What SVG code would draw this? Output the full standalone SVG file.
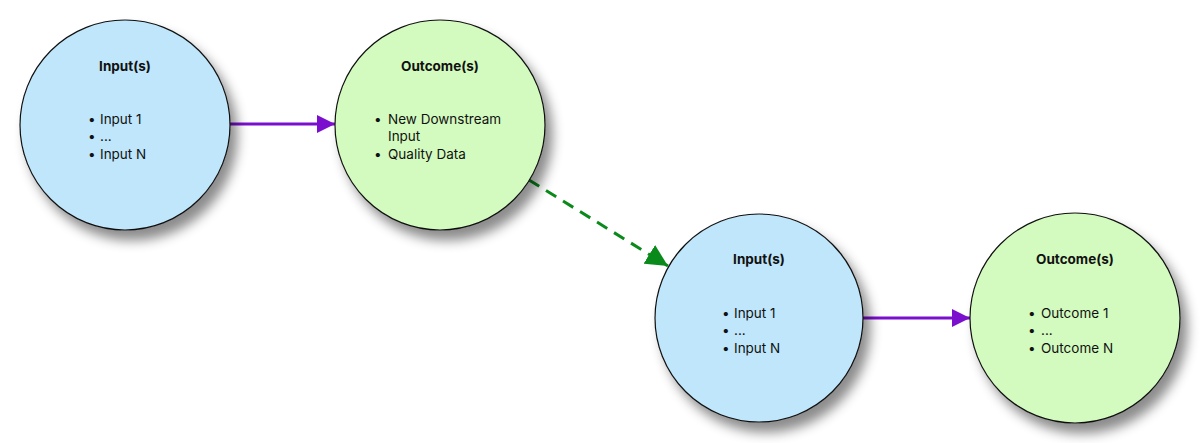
<svg xmlns="http://www.w3.org/2000/svg" width="1200" height="443" viewBox="0 0 1200 443">
<style>
.t{font-family:Inter,"Liberation Sans",sans-serif;font-size:13.5px;fill:#111}
.h{font-weight:bold;text-anchor:middle}
.b{fill:#bfe6fb;stroke:#111;stroke-width:1.2}
.g{fill:#d4fbbf;stroke:#111;stroke-width:1.2}
</style>
<defs>
<filter id="sh" x="-30%" y="-30%" width="160%" height="160%"><feDropShadow dx="7" dy="10" stdDeviation="6" flood-color="#000" flood-opacity="0.45"/></filter>
<marker id="ap" markerWidth="6" markerHeight="6" refX="6" refY="3" orient="auto" markerUnits="strokeWidth"><path d="M0,0L6,3L0,6Z" fill="#7a0fce"/></marker>
<marker id="ag2" viewBox="0 0 10 10" refX="10" refY="5" markerWidth="22" markerHeight="22" markerUnits="userSpaceOnUse" orient="auto"><path d="M0,0L10,5L0,10Z" fill="#0a8a1a"/></marker>
</defs>
<g id="connectors">
<line x1="229" y1="124" x2="335" y2="124" stroke="#7a0fce" stroke-width="3" marker-end="url(#ap)"/>
<line x1="529" y1="180" x2="668" y2="266" stroke="#0a8a1a" stroke-width="3" stroke-dasharray="12,8" marker-end="url(#ag2)"/>
<line x1="863" y1="318" x2="970" y2="318" stroke="#7a0fce" stroke-width="3" marker-end="url(#ap)"/>
</g>
<g id="n1"><circle cx="125" cy="125" r="105" class="b" filter="url(#sh)"/>
<text class="t h" x="125" y="71">Input(s)</text>
<text class="t" x="88" y="124">•</text><text class="t" x="100" y="124">Input 1</text>
<text class="t" x="88" y="141">•</text><text class="t" x="100" y="141">...</text>
<text class="t" x="88" y="159">•</text><text class="t" x="100" y="159">Input N</text></g>
<g id="n2"><circle cx="440" cy="125" r="105" class="g" filter="url(#sh)"/>
<text class="t h" x="440" y="71">Outcome(s)</text>
<text class="t" x="374" y="124">•</text><text class="t" x="388" y="124">New Downstream</text>
<text class="t" x="388" y="141">Input</text>
<text class="t" x="374" y="159">•</text><text class="t" x="388" y="159">Quality Data</text></g>
<g id="n3"><circle cx="759" cy="318" r="104" class="b" filter="url(#sh)"/>
<text class="t h" x="759" y="264">Input(s)</text>
<text class="t" x="722" y="318">•</text><text class="t" x="734" y="318">Input 1</text>
<text class="t" x="722" y="335">•</text><text class="t" x="734" y="335">...</text>
<text class="t" x="722" y="353">•</text><text class="t" x="734" y="353">Input N</text></g>
<g id="n4"><circle cx="1075" cy="318" r="105" class="g" filter="url(#sh)"/>
<text class="t h" x="1075" y="264">Outcome(s)</text>
<text class="t" x="1028" y="318">•</text><text class="t" x="1041" y="318">Outcome 1</text>
<text class="t" x="1028" y="335">•</text><text class="t" x="1041" y="335">...</text>
<text class="t" x="1028" y="353">•</text><text class="t" x="1041" y="353">Outcome N</text></g>
</svg>
